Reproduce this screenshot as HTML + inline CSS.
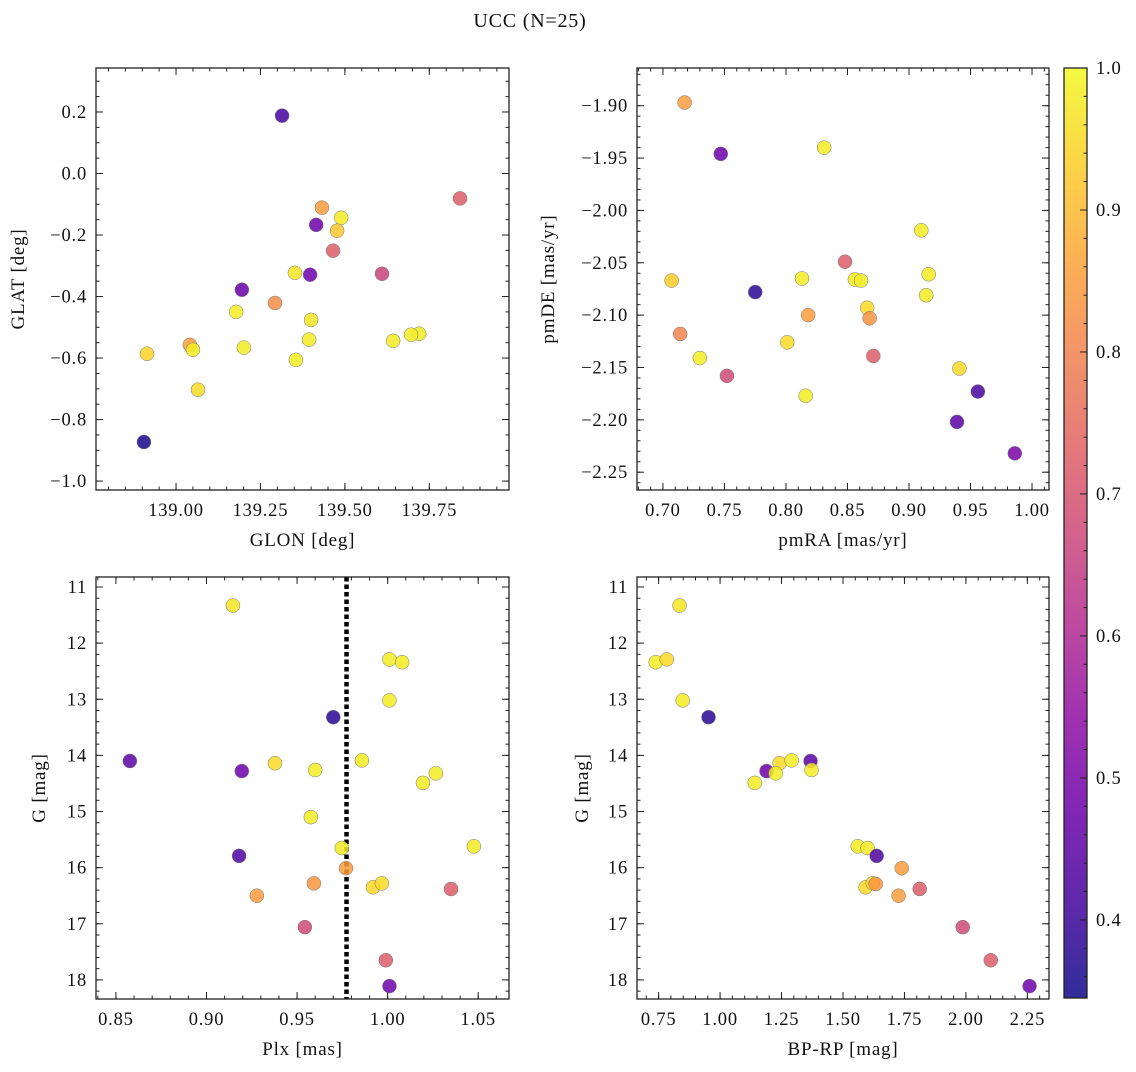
<!DOCTYPE html>
<html><head><meta charset="utf-8"><style>
body{margin:0;background:#fff;}
svg text{font-family:"Liberation Serif","DejaVu Serif",serif;fill:#111;letter-spacing:0.8px;}
</style></head><body>
<svg id="fig" width="1136" height="1067" xmlns="http://www.w3.org/2000/svg">
<defs>
<linearGradient id="cbg" x1="0" y1="1" x2="0" y2="0">
<stop offset="0" stop-color="#0d0887"/><stop offset="0.1" stop-color="#41049d"/><stop offset="0.2" stop-color="#6a00a8"/><stop offset="0.3" stop-color="#8f0da4"/><stop offset="0.4" stop-color="#b12a90"/><stop offset="0.5" stop-color="#cc4778"/><stop offset="0.6" stop-color="#e16462"/><stop offset="0.7" stop-color="#f2844b"/><stop offset="0.8" stop-color="#fca636"/><stop offset="0.9" stop-color="#fcce25"/><stop offset="1" stop-color="#f0f921"/>
</linearGradient>
</defs>
<text x="530" y="27" font-size="20" text-anchor="middle">UCC (N=25)</text>
</svg>
<script>
// ---- data ----
const p1Glon=[139.314,139.841,139.432,139.489,139.415,139.477,139.465,139.352,139.397,139.610,139.195,139.293,139.178,139.400,139.041,139.050,139.201,138.914,139.394,139.720,139.696,139.643,139.355,139.065,138.905];
const p1Glat=[0.188,-0.081,-0.111,-0.144,-0.167,-0.186,-0.251,-0.323,-0.329,-0.326,-0.378,-0.421,-0.450,-0.476,-0.557,-0.573,-0.566,-0.586,-0.540,-0.521,-0.524,-0.544,-0.606,-0.703,-0.873];
const p1Prob=[0.42,0.72,0.85,0.98,0.48,0.92,0.72,0.97,0.48,0.66,0.47,0.82,0.98,0.97,0.85,0.98,0.98,0.94,0.98,0.98,0.98,0.98,0.98,0.95,0.36];
const p2Pmra=[0.7176,0.747,0.831,0.910,0.916,0.914,0.848,0.813,0.856,0.861,0.866,0.818,0.868,0.707,0.714,0.730,0.752,0.801,0.775,0.871,0.816,0.941,0.956,0.939,0.986];
const p2Pmde=[-1.897,-1.946,-1.940,-2.019,-2.061,-2.081,-2.049,-2.065,-2.066,-2.067,-2.093,-2.100,-2.103,-2.067,-2.118,-2.141,-2.158,-2.126,-2.078,-2.139,-2.177,-2.151,-2.173,-2.202,-2.232];
const p2Prob=[0.85,0.48,0.98,0.98,0.98,0.98,0.72,0.98,0.98,0.98,0.95,0.85,0.83,0.93,0.80,0.98,0.68,0.95,0.38,0.72,0.98,0.95,0.42,0.45,0.50];
const p3Plx=[0.9146,1.001,1.008,1.001,0.970,0.8577,0.9195,0.9378,0.960,0.9858,1.0266,1.0195,0.9576,0.918,0.9747,1.0476,0.977,0.9593,0.9919,0.9968,0.9278,1.035,0.9543,0.999,1.001];
const p3G=[11.33,12.29,12.34,13.02,13.32,14.10,14.28,14.14,14.26,14.09,14.32,14.49,15.10,15.79,15.65,15.62,16.01,16.28,16.35,16.28,16.50,16.38,17.06,17.65,18.11];
const p3Prob=[0.97,0.98,0.98,0.98,0.38,0.45,0.48,0.95,0.98,0.98,0.98,0.98,0.98,0.43,0.98,0.98,0.85,0.84,0.95,0.95,0.85,0.72,0.68,0.72,0.48];
const p4Bprp=[0.835,0.738,0.783,0.848,0.953,1.141,1.189,1.242,1.226,1.291,1.368,1.372,1.560,1.600,1.637,1.739,1.592,1.621,1.633,1.726,1.812,1.987,2.101,2.259];
const p4G=[11.33,12.34,12.29,13.02,13.32,14.49,14.28,14.14,14.32,14.09,14.10,14.26,15.62,15.65,15.79,16.01,16.35,16.28,16.29,16.50,16.38,17.06,17.65,18.11];
const p4Prob=[0.97,0.98,0.95,0.98,0.38,0.98,0.48,0.95,0.98,0.98,0.45,0.98,0.98,0.98,0.43,0.85,0.95,0.95,0.84,0.85,0.72,0.68,0.72,0.48];
const plxLine=[0.9773];
const cbTicks=[0.4,0.5,0.6,0.7,0.8,0.9,1.0];
const VMIN=0.345, VMAX=1.0;

const NS="http://www.w3.org/2000/svg";
const svg=document.getElementById('fig');
function mk(tag,attrs,parent){const e=document.createElementNS(NS,tag);for(const k in attrs)e.setAttribute(k,attrs[k]);(parent||svg).appendChild(e);return e;}
const stops=[[13,8,135],[65,4,157],[106,0,168],[143,13,164],[177,42,144],[204,71,120],[225,100,98],[242,132,75],[252,166,54],[252,206,37],[240,249,33]];
function plasma(v){let t=(v-VMIN)/(VMAX-VMIN);t=Math.max(0,Math.min(1,t))*10;const i=Math.min(9,Math.floor(t)),f=t-i;const a=stops[i],b=stops[i+1];return `rgb(${a.map((c,j)=>Math.round(c+(b[j]-c)*f)).join(',')})`;}

function panel(cfg){
  const g=mk('g',{});
  
  
  const {L,R,T,B,x0,x1,y0,y1}=cfg;
  const sx=v=>L+(v-x0)/(x1-x0)*(R-L);
  const sy=v=>cfg.invert? T+(v-y0)/(y1-y0)*(B-T) : B-(v-y0)/(y1-y0)*(B-T);
  const tg=mk('g',{stroke:'#222','stroke-width':1},g);
  function ticksX(step,len,labels,fmt){
    const s=Math.ceil(Math.min(x0,x1)/step-1e-6);
    for(let k=s;k*step<=Math.max(x0,x1)+1e-9;k++){const v=k*step,x=sx(v);
      mk('line',{x1:x,x2:x,y1:B,y2:B-len},tg);mk('line',{x1:x,x2:x,y1:T,y2:T+len},tg);
      if(labels){const t=mk('text',{x:x,y:B+26,'font-size':18.5,'text-anchor':'middle'},g);t.textContent=v.toFixed(fmt);}}
  }
  function ticksY(step,len,labels,fmt){
    const lo=Math.min(y0,y1),hi=Math.max(y0,y1);const s=Math.ceil(lo/step-1e-6);
    for(let k=s;k*step<=hi+1e-9;k++){const v=k*step,y=sy(v);
      mk('line',{x1:L,x2:L+len,y1:y,y2:y},tg);mk('line',{x1:R,x2:R-len,y1:y,y2:y},tg);
      if(labels){const t=mk('text',{x:L-9,y:y+6,'font-size':18.5,'text-anchor':'end'},g);t.textContent=(v<0?'\u2212':'')+Math.abs(v).toFixed(fmt);}}
  }
  ticksX(cfg.xmin,3.5,false,0);ticksX(cfg.xmaj,7,true,cfg.xf);
  ticksY(cfg.ymin,3.5,false,0);ticksY(cfg.ymaj,7,true,cfg.yf);
  if(cfg.vline){cfg.vline.forEach(v=>{const ln=mk('line',{x1:sx(v),x2:sx(v),y1:T,y2:B,stroke:'#000','stroke-width':4.5,'stroke-dasharray':'4.5 3'},g);});}
  cfg.xs.forEach((xv,i)=>{const c=mk('circle',{cx:sx(xv),cy:sy(cfg.ys[i]),r:7,fill:plasma(cfg.cs[i]),'fill-opacity':0.85,stroke:'#777','stroke-width':0.5},g);
    
    });
  const fr=mk('rect',{x:L,y:T,width:R-L,height:B-T,fill:'none',stroke:'#222','stroke-width':1.3},g);
  
  const xl=mk('text',{x:(L+R)/2,y:B+56,'font-size':19,'text-anchor':'middle'},g);xl.textContent=cfg.xlabel;
  
  const yl=mk('text',{x:0,y:0,'font-size':19,'text-anchor':'middle',transform:`translate(${cfg.ylx},${(T+B)/2}) rotate(-90)`},g);yl.textContent=cfg.ylabel;
  
}
panel({name:'glon-glat-panel',L:96,R:509,T:68,B:490,x0:138.763,x1:139.986,y0:-1.029,y1:0.343,xmaj:0.25,xmin:0.05,ymaj:0.2,ymin:0.05,xf:2,yf:1,xs:p1Glon,ys:p1Glat,cs:p1Prob,xlabel:'GLON [deg]',ylabel:'GLAT [deg]',ylx:24});
panel({name:'proper-motion-panel',L:637,R:1049,T:68,B:490,x0:0.6789,x1:1.0138,y0:-2.267,y1:-1.864,xmaj:0.05,xmin:0.01,ymaj:0.05,ymin:0.01,xf:2,yf:2,xs:p2Pmra,ys:p2Pmde,cs:p2Prob,xlabel:'pmRA [mas/yr]',ylabel:'pmDE [mas/yr]',ylx:554});
panel({name:'parallax-mag-panel',L:96,R:509,T:577,B:999,x0:0.839,x1:1.067,y0:10.822,y1:18.34,invert:true,xmaj:0.05,xmin:0.01,ymaj:1,ymin:0.2,xf:2,yf:0,xs:p3Plx,ys:p3G,cs:p3Prob,vline:plxLine,xlabel:'Plx [mas]',ylabel:'G [mag]',ylx:45});
panel({name:'cmd-panel',L:637,R:1049,T:577,B:999,x0:0.662,x1:2.338,y0:10.822,y1:18.34,invert:true,xmaj:0.25,xmin:0.05,ymaj:1,ymin:0.2,xf:2,yf:0,xs:p4Bprp,ys:p4G,cs:p4Prob,xlabel:'BP-RP [mag]',ylabel:'G [mag]',ylx:588});
const cb=mk('g',{});


const cT=68,cB=998,cL=1064,cR=1087;
mk('rect',{x:cL,y:cT,width:cR-cL,height:cB-cT,fill:'url(#cbg)','fill-opacity':0.85},cb);
const cy=v=>cB-(v-VMIN)/(VMAX-VMIN)*(cB-cT);
for(let k=18;k<=50;k++){const v=k*0.02;if(v<VMIN||v>VMAX+1e-9)continue;mk('line',{x1:cR,x2:cR-3.5,y1:cy(v),y2:cy(v),stroke:'#222'},cb);}
cbTicks.forEach(v=>{mk('line',{x1:cR,x2:cR-7,y1:cy(v),y2:cy(v),stroke:'#222'},cb);const t=mk('text',{x:cR+9,y:cy(v)+6,'font-size':18.5},cb);t.textContent=v.toFixed(1);
  
  });
mk('rect',{x:cL,y:cT,width:cR-cL,height:cB-cT,fill:'none',stroke:'#222','stroke-width':1.3},cb);
</script>
</body></html>
